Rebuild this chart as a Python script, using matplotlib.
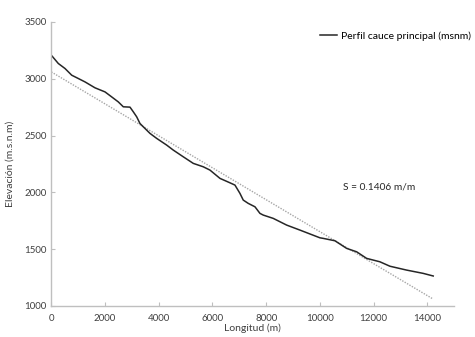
import matplotlib
matplotlib.use("Agg")
import matplotlib.pyplot as plt

# Perfil longitudinal del cauce principal
longitud = [0, 261, 510, 760, 1005, 1255, 1627, 2000, 2249, 2495, 2681, 2930,
            3053, 3179, 3302, 3425, 3674, 3924, 4296, 4542, 4914, 5287, 5659,
            5908, 6281, 6653, 6839, 7025, 7148, 7334, 7584, 7770, 7893, 8265,
            8764, 9259, 9631, 10004, 10127, 10562, 10998, 11370, 11742, 12237,
            12610, 13231, 13850, 14222]
elevacion = [3207, 3134, 3090, 3031, 3002, 2972, 2920, 2884, 2840, 2796, 2753, 2750,
             2709, 2665, 2606, 2577, 2519, 2475, 2416, 2372, 2313, 2255, 2225,
             2196, 2123, 2084, 2064, 1991, 1932, 1903, 1873, 1815, 1800, 1771,
             1712, 1668, 1634, 1600, 1595, 1574, 1507, 1477, 1419, 1389,
             1350, 1316, 1287, 1264]

# Línea de tendencia (pendiente S)
trend_x = [0, 14220]
trend_y = [3060, 1061]
pendiente = "S = 0.1406 m/m"

xticks = [0, 2000, 4000, 6000, 8000, 10000, 12000, 14000]
yticks = [1000, 1500, 2000, 2500, 3000, 3500]

plt.rcParams['font.family'] = ['Lato', 'DejaVu Sans']

fig = plt.figure(figsize=(4.75, 3.37), dpi=100)
ax = fig.add_axes([0.108, 0.092, 0.848, 0.843])

ax.plot(trend_x, trend_y, color='#a6a6a6', linestyle=(0, (1, 1)), linewidth=1)
ax.plot(longitud, elevacion, color='#262626', linewidth=1.1,
        label='Perfil cauce principal (msnm)')

ax.set_xlim(0, 15000)
ax.set_ylim(1000, 3500)
ax.set_xticks(xticks)
ax.set_yticks(yticks)
ax.tick_params(labelsize=7, direction='in', length=3, color='#bfbfbf',
               labelcolor='#404040')
ax.tick_params(axis='x', pad=6)

for side in ['top', 'right']:
    ax.spines[side].set_visible(False)
for side in ['left', 'bottom']:
    ax.spines[side].set_color('#bfbfbf')
    ax.spines[side].set_linewidth(1)

ax.set_xlabel('Longitud (m)', fontsize=7.5, color='#404040', labelpad=0)
ax.set_ylabel('Elevación (m.s.n.m)', fontsize=7.5, color='#404040', labelpad=7)

ax.text(0.725, 0.41, pendiente, transform=ax.transAxes, fontsize=7.3,
        color='#262626')

ax.legend(loc='upper right', bbox_to_anchor=(1.065, 1.0), frameon=False,
          fontsize=7.5, handlelength=1.6, handletextpad=0.4)

plt.savefig('out.png', dpi=100)
